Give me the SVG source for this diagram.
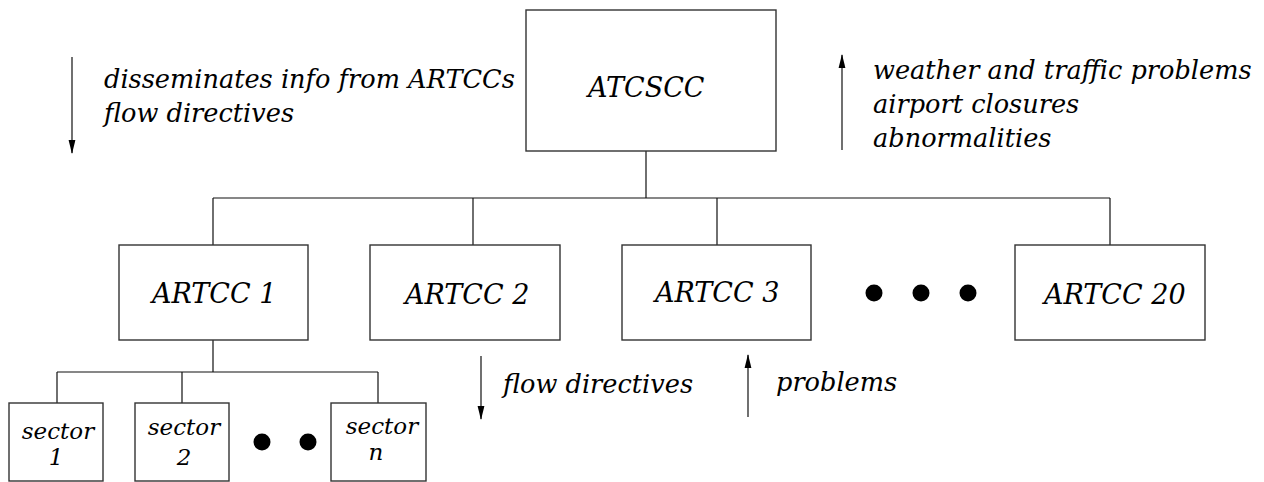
<svg xmlns="http://www.w3.org/2000/svg" width="1264" height="482" viewBox="0 0 1264 482">
<style>
.box{fill:#fff;stroke:#333;stroke-width:1.4}
.ln{fill:none;stroke:#111;stroke-width:1.2}
.t{font-family:"DejaVu Serif",serif;font-style:italic;fill:#000}
.lab{font-size:27px}
.side{font-size:25.6px}
.sec{font-size:23px;text-anchor:middle}
.dot{fill:#000}
</style>
<defs>
<marker id="ah" viewBox="0 0 14 8" refX="13" refY="4" markerWidth="14" markerHeight="8" markerUnits="userSpaceOnUse" orient="auto">
<path d="M0,0.6 L14,4 L0,7.4 Z" fill="#000"/>
</marker>
</defs>
<rect width="1264" height="482" fill="#fff"/>
<g id="connectors">
<path class="ln" d="M646,151 V198 M213,198 H1110 M213,198 V245 M473,198 V245 M717,198 V245 M1110,198 V245"/>
<path class="ln" d="M213,340 V372 M57,372 H378 M57,372 V403 M182,372 V403 M378,372 V403"/>
<line class="ln" x1="72" y1="57" x2="72" y2="153" marker-end="url(#ah)"/>
<line class="ln" x1="842" y1="150" x2="842" y2="55" marker-end="url(#ah)"/>
<line class="ln" x1="481" y1="356" x2="481" y2="419" marker-end="url(#ah)"/>
<line class="ln" x1="748" y1="417" x2="748" y2="355" marker-end="url(#ah)"/>
</g>
<g id="atcscc">
<rect class="box" x="526" y="10" width="250" height="141"/>
<text class="t lab" x="588" y="97">ATCSCC</text>
</g>
<g id="artcc1">
<rect class="box" x="119" y="245" width="189" height="95"/>
<text class="t lab" x="152" y="303">ARTCC 1</text>
</g>
<g id="artcc2">
<rect class="box" x="370" y="245" width="190" height="95"/>
<text class="t lab" x="405" y="304">ARTCC 2</text>
</g>
<g id="artcc3">
<rect class="box" x="622" y="245" width="189" height="95"/>
<text class="t lab" x="655" y="302">ARTCC 3</text>
</g>
<g id="artcc20">
<rect class="box" x="1015" y="245" width="190" height="95"/>
<text class="t lab" x="1044" y="304">ARTCC 20</text>
</g>
<g id="artcc-dots">
<circle class="dot" cx="874" cy="293" r="8.5"/>
<circle class="dot" cx="921" cy="293" r="8.5"/>
<circle class="dot" cx="968" cy="293" r="8.5"/>
</g>
<g id="sector1">
<rect class="box" x="9" y="403" width="94" height="78"/>
<text class="t sec" x="58" y="439">sector</text>
<text class="t sec" x="56" y="465">1</text>
</g>
<g id="sector2">
<rect class="box" x="135" y="403" width="94" height="78"/>
<text class="t sec" x="184" y="435">sector</text>
<text class="t sec" x="184" y="465">2</text>
</g>
<g id="sector-dots">
<circle class="dot" cx="262" cy="442" r="8.5"/>
<circle class="dot" cx="308" cy="442" r="8.5"/>
</g>
<g id="sectorn">
<rect class="box" x="331" y="403" width="95" height="78"/>
<text class="t sec" x="382" y="434">sector</text>
<text class="t sec" x="376" y="460">n</text>
</g>
<g id="labels">
<text class="t side" x="104" y="88">disseminates info from ARTCCs</text>
<text class="t side" x="104" y="122">flow directives</text>
<text class="t side" x="873" y="79">weather and traffic problems</text>
<text class="t side" x="873" y="113">airport closures</text>
<text class="t side" x="873" y="147">abnormalities</text>
<text class="t side" x="503" y="393">flow directives</text>
<text class="t side" x="776" y="391">problems</text>
</g>
</svg>
